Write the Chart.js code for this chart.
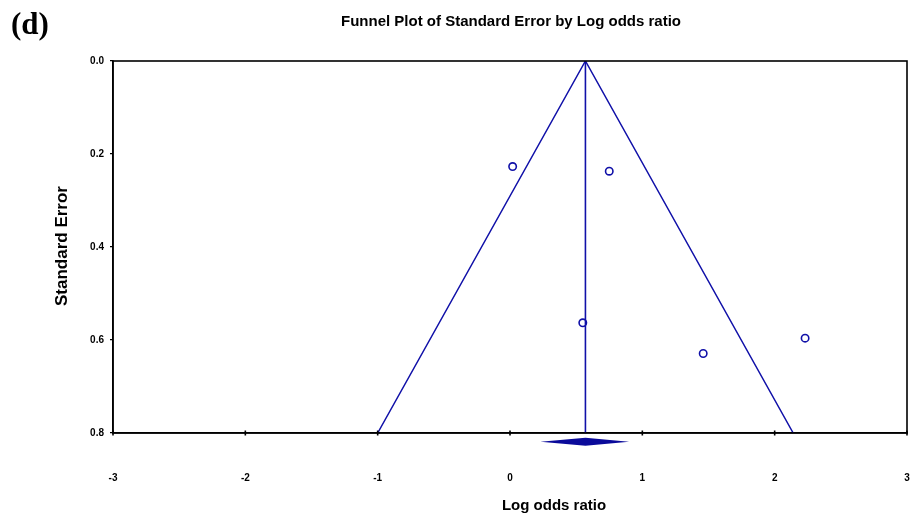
<!DOCTYPE html>
<html>
<head>
<meta charset="utf-8">
<script src="https://cdn.jsdelivr.net/npm/chart.js@4.4.1/dist/chart.umd.min.js"></script>
<style>
  html, body { margin: 0; padding: 0; background: #ffffff; }
  #wrap { width: 917px; height: 515px; position: relative; }
</style>
</head>
<body>
<div id="wrap"><canvas id="c" width="917" height="515"></canvas></div>
<script>
// ---- Data ----
const studyLogOR = [0.02, 0.75, 0.55, 1.46, 2.23];
const studySE    = [0.227, 0.237, 0.563, 0.629, 0.596];

const funnelX = [-1.00, 0.57, 2.14];
const funnelY = [0.80, 0.00, 0.80];

const centerX = [0.57, 0.57];
const centerY = [0.00, 0.80];

// summary diamond: lower limit, estimate, upper limit ; drawn at this SE level
const summaryLogOR = [0.23, 0.57, 0.90];
const summaryRowSE = 0.819;

const xTicks = [-3, -2, -1, 0, 1, 2, 3];
const yTicks = [0.0, 0.2, 0.4, 0.6, 0.8];

const panelLabel = '(d)';
const chartTitle = 'Funnel Plot of Standard Error by Log odds ratio';
const xTitle = 'Log odds ratio';
const yTitle = 'Standard Error';

// ---- Styling ----
const BLUE = '#1010a8';
const TICKFONT = { family: 'Liberation Sans, Arial, sans-serif', size: 10, weight: 'bold' };

const framePlugin = {
  id: 'framePlugin',
  afterDatasetsDraw(chart) {
    const { ctx, chartArea: a, scales } = chart;
    ctx.save();
    // plot frame
    ctx.strokeStyle = '#000';
    ctx.lineWidth = 1.6;
    ctx.strokeRect(a.left, a.top, a.right - a.left, a.bottom - a.top);
    // x tick marks crossing the bottom axis
    ctx.lineWidth = 1.6;
    xTicks.forEach(v => {
      const px = scales.x.getPixelForValue(v);
      ctx.beginPath();
      ctx.moveTo(px, a.bottom - 2.5);
      ctx.lineTo(px, a.bottom + 2.5);
      ctx.stroke();
    });
    // summary diamond (through the scales)
    const xs = summaryLogOR.map(v => scales.x.getPixelForValue(v));
    const yc = scales.y.getPixelForValue(summaryRowSE);
    const hh = 4;
    ctx.fillStyle = '#0a0a9a';
    ctx.beginPath();
    ctx.moveTo(xs[0], yc);
    ctx.lineTo(xs[1], yc - hh);
    ctx.lineTo(xs[2], yc);
    ctx.lineTo(xs[1], yc + hh);
    ctx.closePath();
    ctx.fill();
    ctx.restore();
  },
  afterDraw(chart) {
    const { ctx } = chart;
    ctx.save();
    ctx.fillStyle = '#000';
    // panel label
    ctx.font = 'bold 31px "Liberation Serif", "Times New Roman", serif';
    ctx.textAlign = 'left';
    ctx.textBaseline = 'alphabetic';
    ctx.fillText(panelLabel, 11, 34);
    // main title
    ctx.font = 'bold 15px "Liberation Sans", Arial, sans-serif';
    ctx.textAlign = 'center';
    ctx.textBaseline = 'middle';
    ctx.fillText(chartTitle, 511, 22);
    // x title
    ctx.font = 'bold 15px "Liberation Sans", Arial, sans-serif';
    ctx.fillText(xTitle, 554, 506);
    // y title
    ctx.translate(62, 246);
    ctx.rotate(-Math.PI / 2);
    ctx.font = 'bold 17px "Liberation Sans", Arial, sans-serif';
    ctx.fillText(yTitle, 0, 0);
    ctx.restore();
  }
};

new Chart(document.getElementById('c'), {
  type: 'scatter',
  data: {
    datasets: [
      {
        label: 'Funnel',
        type: 'line',
        data: funnelX.map((x, i) => ({ x, y: funnelY[i] })),
        borderColor: BLUE,
        borderWidth: 1.5,
        pointRadius: 0,
        fill: false,
        tension: 0
      },
      {
        label: 'Center',
        type: 'line',
        data: centerX.map((x, i) => ({ x, y: centerY[i] })),
        borderColor: BLUE,
        borderWidth: 1.6,
        pointRadius: 0,
        fill: false
      },
      {
        label: 'Studies',
        data: studyLogOR.map((x, i) => ({ x, y: studySE[i] })),
        pointRadius: 3.7,
        pointBorderWidth: 1.6,
        pointBorderColor: BLUE,
        pointBackgroundColor: 'rgba(255,255,255,0)',
        showLine: false
      }
    ]
  },
  options: {
    responsive: false,
    animation: false,
    layout: { padding: { top: 61, right: 10, left: 0, bottom: 0 } },
    plugins: {
      legend: { display: false },
      title: { display: false },
      tooltip: { enabled: false }
    },
    scales: {
      x: {
        type: 'linear',
        min: -3, max: 3,
        afterBuildTicks(s) { s.ticks = xTicks.map(v => ({ value: v })); },
        afterFit(s) { s.height = 82; },
        grid: { display: true, drawOnChartArea: false, drawTicks: true, tickLength: 39, color: 'rgba(0,0,0,0)' },
        border: { display: true, color: '#000', width: 1.6 },
        ticks: { padding: 0, color: '#000', font: TICKFONT, maxRotation: 0,
                 callback: v => String(v) }
      },
      y: {
        type: 'linear',
        reverse: true,
        min: 0, max: 0.8,
        afterBuildTicks(s) { s.ticks = yTicks.map(v => ({ value: v })); },
        afterFit(s) { s.width = 113; },
        grid: { display: true, drawOnChartArea: false, drawTicks: true, tickLength: 3, color: '#000', lineWidth: 1.3 },
        border: { display: true, color: '#000', width: 1.6 },
        ticks: { padding: 6, color: '#000', font: TICKFONT,
                 callback: v => Number(v).toFixed(1) }
      }
    }
  },
  plugins: [framePlugin]
});
</script>
</body>
</html>
